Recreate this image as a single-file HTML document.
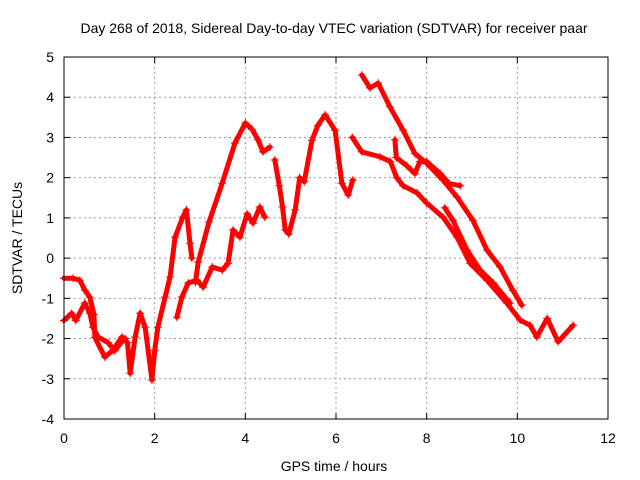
<!DOCTYPE html>
<html><head><meta charset="utf-8"><style>body{margin:0;background:#fff}svg{display:block;font-family:"Liberation Sans",sans-serif}</style></head>
<body>
<svg id="chart" width="640" height="480" xmlns="http://www.w3.org/2000/svg">
<rect width="640" height="480" fill="#fff"/>
<g id="grid"></g><g id="marks"></g><g id="axes"></g>
<text x="334" y="33" font-size="14" text-anchor="middle">Day 268 of 2018, Sidereal Day-to-day VTEC variation (SDTVAR) for receiver paar</text>
<text x="334" y="471" font-size="14" text-anchor="middle">GPS time / hours</text>
<text transform="translate(22,238) rotate(-90)" font-size="14" text-anchor="middle">SDTVAR / TECUs</text>
</svg>
<script>
const xTicks=[0,2,4,6,8,10,12];
const yTicks=[-4,-3,-2,-1,0,1,2,3,4,5];
const sA_x=[0,0.2,0.35,0.46,0.57,0.66,0.68,0.9,1.08,1.28,1.4,1.46,1.57,1.68,1.79,1.94,2.0,2.07,2.23,2.34,2.45,2.62,2.7,2.78,2.82];
const sA_y=[-0.5,-0.5,-0.55,-0.8,-0.97,-1.4,-1.97,-2.46,-2.29,-1.96,-2.1,-2.86,-1.96,-1.37,-1.72,-3.03,-2.3,-1.72,-0.97,-0.47,0.52,1.02,1.2,0.37,0.0];
const sB_x=[0,0.17,0.26,0.46,0.57,0.64,0.75,0.97,1.12,1.26,1.35];
const sB_y=[-1.55,-1.37,-1.55,-1.12,-1.37,-1.72,-1.96,-2.1,-2.3,-2.1,-2.0];
const sG_x=[2.49,2.6,2.74,2.93,3.07,3.27,3.49,3.62,3.73,3.88,4.04,4.17,4.32,4.43];
const sG_y=[-1.47,-0.97,-0.62,-0.55,-0.72,-0.22,-0.3,-0.13,0.7,0.52,1.1,0.87,1.27,1.02];
const sH_x=[2.9,2.96,3.2,3.49,3.77,4.0,4.15,4.28,4.39,4.54];
const sH_y=[-0.6,-0.1,0.9,1.86,2.86,3.36,3.2,2.94,2.64,2.76];
const sI_x=[4.65,4.75,4.82,4.88,4.96,5.1,5.2,5.3,5.47,5.6,5.76,5.98,6.13,6.27,6.37];
const sI_y=[2.44,1.8,1.27,0.7,0.6,1.2,2.0,1.9,2.93,3.3,3.56,3.18,1.86,1.57,1.94];
const sC_x=[6.36,6.57,6.97,7.2,7.34,7.48,7.79,8.0,8.36,8.67,8.96,9.33,9.77,10.06,10.28,10.43,10.66,10.9,11.23];
const sC_y=[3.0,2.64,2.52,2.4,2.0,1.8,1.62,1.37,1.02,0.52,-0.13,-0.55,-1.12,-1.54,-1.67,-1.96,-1.5,-2.08,-1.67];
const sD_x=[6.57,6.75,6.93,7.19,7.48,7.74,8.0,8.36,8.67,9.02,9.33,9.62,9.9,10.1];
const sD_y=[4.55,4.23,4.35,3.76,3.18,2.6,2.36,1.94,1.52,0.94,0.2,-0.22,-0.8,-1.17];
const sE_x=[7.3,7.33,7.56,7.74,7.85,8.0,8.3,8.5,8.74];
const sE_y=[2.94,2.5,2.3,2.1,2.4,2.4,2.1,1.85,1.8];
const sF_x=[8.4,8.58,8.89,9.18,9.47,9.84];
const sF_y=[1.25,0.94,0.2,-0.3,-0.62,-1.12];
const series=[[sA_x,sA_y],[sB_x,sB_y],[sG_x,sG_y],[sH_x,sH_y],[sI_x,sI_y],[sC_x,sC_y],[sD_x,sD_y],[sE_x,sE_y],[sF_x,sF_y]];
const L=64,R=608,T=57,B=419;
const X=h=>L+(h-0)/(12-0)*(R-L);
const Y=v=>B-(v+4)/(5+4)*(B-T);
const NS="http://www.w3.org/2000/svg";
function mk(t,a,p){const e=document.createElementNS(NS,t);for(const k in a)e.setAttribute(k,a[k]);p.appendChild(e);return e;}
const grid=document.getElementById('grid'),axes=document.getElementById('axes'),marks=document.getElementById('marks');
xTicks.forEach(t=>{
 if(t>0&&t<12){const g=mk('line',{x1:X(t),x2:X(t),y1:T,y2:B,stroke:'#999','stroke-dasharray':'2,3'},grid);
 
 }
 mk('line',{x1:X(t),x2:X(t),y1:B,y2:B-6,stroke:'#000'},axes);
 mk('line',{x1:X(t),x2:X(t),y1:T,y2:T+6,stroke:'#000'},axes);
 const l=mk('text',{x:X(t),y:B+24,'font-size':14,'text-anchor':'middle'},axes);l.textContent=t;
 
 
});
yTicks.forEach(t=>{
 if(t>-4&&t<5){const g=mk('line',{x1:L,x2:R,y1:Y(t),y2:Y(t),stroke:'#999','stroke-dasharray':'2,3'},grid);
 
 }
 mk('line',{x1:L,x2:L+6,y1:Y(t),y2:Y(t),stroke:'#000'},axes);
 mk('line',{x1:R,x2:R-6,y1:Y(t),y2:Y(t),stroke:'#000'},axes);
 const l=mk('text',{x:L-10,y:Y(t)+5,'font-size':14,'text-anchor':'end'},axes);l.textContent=t;
 
 
});
const fr=mk('rect',{x:L,y:T,width:R-L,height:B-T,fill:'none',stroke:'#000'},axes);


series.forEach(([xs,ys])=>{
 const pl=mk('polyline',{points:xs.map((x,i)=>X(x)+','+Y(ys[i])).join(' '),fill:'none',stroke:'#f00','stroke-width':5,'stroke-linejoin':'round','stroke-linecap':'round'},marks);
 
 
 xs.forEach((x,i)=>{
  const p=mk('path',{d:`M${X(x)-4},${Y(ys[i])}h8M${X(x)},${Y(ys[i])-4}v8`,stroke:'#f00','stroke-width':1},marks);
  
  
 });
});
</script>
</body></html>
